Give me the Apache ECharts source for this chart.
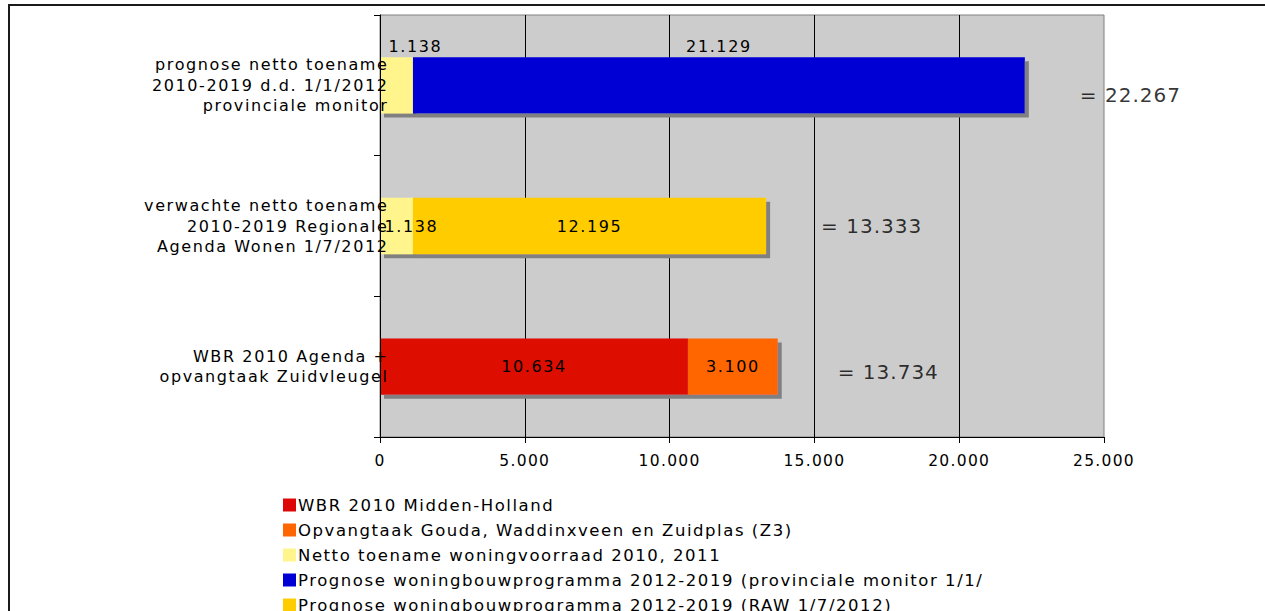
<!DOCTYPE html>
<html>
<head>
<meta charset="utf-8">
<script src="https://cdn.jsdelivr.net/npm/echarts@6/dist/echarts.min.js"></script>
<style>
  html, body { margin: 0; padding: 0; background: #fff; overflow: hidden; }
  #chart { width: 1265px; height: 611px; }
  /* spaced-out lettering for the chart texts */
  #chart text { letter-spacing: 1.6px; }
  #chart text[style*="20px"] { letter-spacing: 1px; }
  #chart text[style*="16.5px"] { letter-spacing: 1.55px; }
  #chart text[style*="15.5px"] { letter-spacing: 1.3px; }
</style>
</head>
<body>
<div id="chart"></div>
<script>
// Categories, bottom to top
const categories = [
  'WBR 2010 Agenda +\nopvangtaak Zuidvleugel',
  'verwachte netto toename\n2010-2019 Regionale\nAgenda Wonen 1/7/2012',
  'prognose netto toename\n2010-2019 d.d. 1/1/2012\nprovinciale monitor'
];

// Series names (legend order)
const seriesNames = [
  'WBR 2010 Midden-Holland',
  'Opvangtaak Gouda, Waddinxveen en Zuidplas (Z3)',
  'Netto toename woningvoorraad 2010, 2011',
  'Prognose woningbouwprogramma 2012-2019 (provinciale monitor 1/1/',
  'Prognose woningbouwprogramma 2012-2019 (RAW 1/7/2012)'
];

// Values per category (null = no segment)
const wbrMiddenHolland = [10634, null, null];
const opvangtaak       = [3100, null, null];
const nettoToename     = [null, 1138, 1138];
const prognoseProv     = [null, null, 21129];
const prognoseRaw      = [null, 12195, null];

// x axis ticks
const xMin = 0, xMax = 25000, xStep = 5000;

const colors = ['#DD0806', '#FF6600', '#FFF58C', '#0000D4', '#FFCC00'];
const FONT = 'DejaVu Sans';

function fmt(v) {
  return String(Math.round(v)).replace(/\B(?=(\d{3})+(?!\d))/g, '.');
}

const allSeries = [wbrMiddenHolland, opvangtaak, nettoToename, prognoseProv, prognoseRaw];
const totals = categories.map((_, i) =>
  allSeries.reduce((s, arr) => s + (arr[i] || 0), 0));

// Per-item label placement tweaks
const labelTweaks = [
  {}, {},
  { 1: { position: 'inside', offset: [15, 0] }, 2: { position: 'top', distance: 3, offset: [19, 0] } },
  { 2: { position: 'top', distance: 3 } },
  {}
];

const shadow = { shadowColor: '#808080', shadowOffsetX: 4, shadowOffsetY: 4, shadowBlur: 0 };

const barSeries = allSeries.map((arr, si) => ({
  name: seriesNames[si],
  type: 'bar',
  stack: 'total',
  barWidth: '40%',
  itemStyle: Object.assign({ color: colors[si] }, shadow),
  label: {
    show: true,
    position: 'inside',
    color: '#000',
    fontFamily: FONT,
    fontSize: 16,
    formatter: p => fmt(p.value)
  },
  data: arr.map((v, i) => {
    if (v == null) return '-';
    const t = labelTweaks[si][i];
    return t ? { value: v, label: t } : v;
  })
}));

const totalOffsets = [[5, 5], [0, 0], [0, 10]];
const totalSeries = {
  type: 'scatter',
  symbolSize: 0,
  silent: true,
  z: 5,
  label: {
    show: true,
    position: 'right',
    distance: 55,
    color: '#000',
    fontFamily: FONT,
    fontSize: 20,
    formatter: p => '= ' + fmt(p.value[0])
  },
  data: totals.map((t, i) => ({ value: [t, i], label: { offset: totalOffsets[i] } }))
};

const chart = echarts.init(document.getElementById('chart'), null, { renderer: 'svg' });
chart.setOption({
  animation: false,
  textStyle: { fontFamily: FONT },
  grid: {
    left: 380, right: 161, top: 15, bottom: 174,
    show: true, backgroundColor: '#CCCCCC', borderColor: '#808080', borderWidth: 1
  },
  legend: {
    data: seriesNames,
    orient: 'vertical',
    left: 283,
    top: 495,
    height: 160,
    padding: 0,
    itemWidth: 13,
    itemHeight: 13,
    itemGap: 5,
    icon: 'rect',
    selectedMode: false,
    textStyle: { color: '#000', fontSize: 16.5, fontFamily: FONT, lineHeight: 20, padding: [0, 0, 0, -3] }
  },
  xAxis: {
    type: 'value',
    min: xMin, max: xMax, interval: xStep,
    axisLine: { show: true, lineStyle: { color: '#000', width: 1 } },
    axisTick: { show: true, length: 6, lineStyle: { color: '#000' } },
    axisLabel: { color: '#000', fontSize: 15.5, fontFamily: FONT, margin: 16, formatter: v => fmt(v) },
    splitLine: { show: true, showMinLine: false, showMaxLine: false, lineStyle: { color: '#000', width: 1 } }
  },
  yAxis: {
    type: 'category',
    data: categories,
    z: 3,
    axisLine: { show: true, lineStyle: { color: '#000', width: 1 } },
    axisTick: { show: true, length: 6, lineStyle: { color: '#000' } },
    axisLabel: { color: '#000', fontSize: 16, fontFamily: FONT, align: 'right', margin: -8.5, lineHeight: 20.5 }
  },
  graphic: [{
    type: 'rect',
    shape: { x: 9, y: 5, width: 1300, height: 700 },
    style: { fill: 'none', stroke: '#1a1a1a', lineWidth: 2 },
    silent: true
  }],
  series: barSeries.concat([totalSeries])
});
</script>
</body>
</html>
